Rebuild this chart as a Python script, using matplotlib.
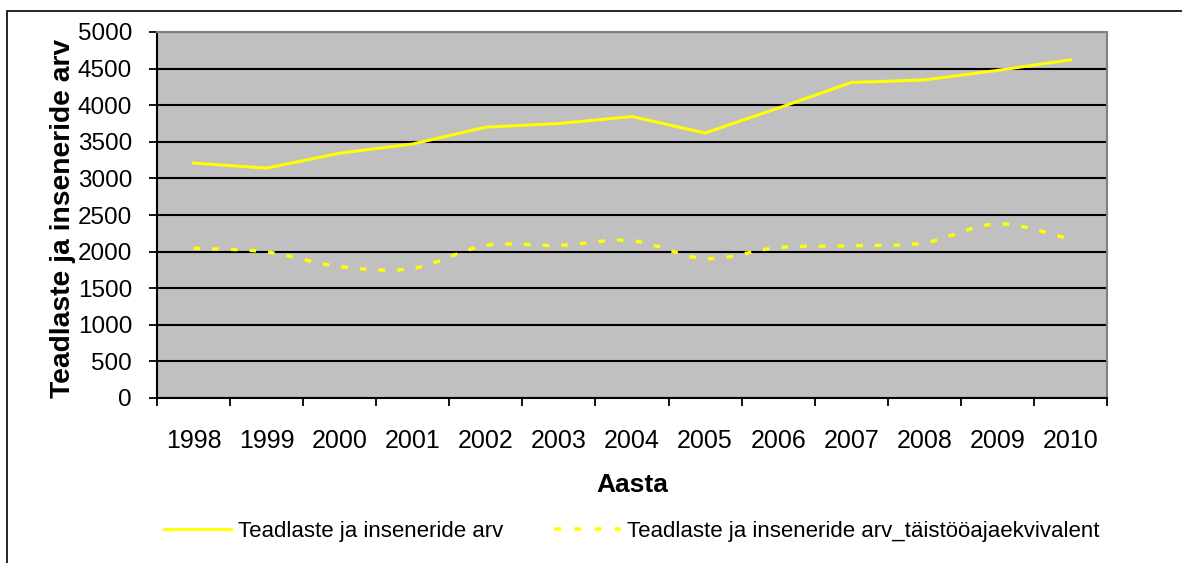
#!/usr/bin/env python3
"""Teadlaste ja inseneride arv 1998-2010 (line chart, Excel-style)."""

import numpy as np
import matplotlib.pyplot as plt
from matplotlib.path import Path
from matplotlib.patches import PathPatch, Rectangle
from matplotlib.lines import Line2D

plt.rcParams["font.family"] = ["Liberation Sans", "DejaVu Sans"]

years = ["1998", "1999", "2000", "2001", "2002", "2003", "2004",
         "2005", "2006", "2007", "2008", "2009", "2010"]
total = [3210, 3140, 3345, 3470, 3700, 3750, 3845,
         3620, 3960, 4310, 4345, 4475, 4620]
fte = [2045, 1995, 1795, 1770, 2085, 2085, 2150,
       1905, 2055, 2080, 2120, 2380, 2170]

label_total = "Teadlaste ja inseneride arv"
label_fte = "Teadlaste ja inseneride arv_täistööajaekvivalent"

W, H = 1182, 563
fig = plt.figure(figsize=(W / 100, H / 100), dpi=100)
ax = fig.add_axes([157 / W, 1 - 398 / H, (1107 - 157) / W, (398 - 32) / H])
ax.set_facecolor("#C0C0C0")

x = np.arange(len(years))


def smooth_path(xs, ys):
    # Excel-like smoothed line: cubic Bezier segments through the data points
    pts = np.column_stack([xs, ys]).astype(float)
    verts = [pts[0]]
    codes = [Path.MOVETO]
    n = len(pts)
    for i in range(n - 1):
        p0 = pts[i - 1] if i > 0 else pts[i]
        p1 = pts[i]
        p2 = pts[i + 1]
        p3 = pts[i + 2] if i + 2 < n else pts[i + 1]
        c1 = p1 + (p2 - p0) / 6
        c2 = p2 - (p3 - p1) / 6
        verts += [c1, c2, p2]
        codes += [Path.CURVE4] * 3
    return Path(verts, codes)


yellow = "#FFFF00"
ax.plot(x, total, color=yellow, lw=2.2, solid_joinstyle="miter", zorder=3)
ax.add_patch(PathPatch(smooth_path(x, fte), fill=False, edgecolor=yellow,
                       lw=2.4, linestyle=(0, (2.0, 3.6)), zorder=3))

ax.set_xlim(-0.5, len(years) - 0.5)
ax.set_ylim(0, 5000)
ax.set_yticks(np.arange(0, 5001, 500))
ax.yaxis.grid(True, color="black", lw=1.5, zorder=1)
ax.set_axisbelow(True)

# ticks at category boundaries, labels at centers
ax.set_xticks(np.arange(-0.5, len(years), 1.0))
ax.set_xticklabels([])
ax.set_xticks(x, minor=True)
ax.set_xticklabels(years, minor=True, fontsize=18)
ax.tick_params(axis="x", which="major", direction="out", length=6, width=1.3, color="black")
ax.tick_params(axis="x", which="minor", length=0, pad=22)
ax.tick_params(axis="y", direction="out", length=6, width=1.3, labelsize=17.5, pad=12)

for s in ("left", "bottom"):
    ax.spines[s].set_color("black")
    ax.spines[s].set_linewidth(1.5)
for s in ("top", "right"):
    ax.spines[s].set_color("#808080")
    ax.spines[s].set_linewidth(1.5)

ax.set_ylabel("Teadlaste ja inseneride arv", fontsize=20.3, fontweight="bold")
ax.yaxis.set_label_coords(-81 / (1107 - 157), 0.49)
ax.set_xlabel("Aasta", fontsize=19, fontweight="bold")
ax.xaxis.set_label_coords(0.5, -(485 - 398) / (398 - 32), transform=ax.transAxes)
ax.xaxis.label.set_verticalalignment("center")

handles = [Line2D([], [], color=yellow, lw=2.2),
           Line2D([], [], color=yellow, lw=2.6, linestyle=(0, (2.0, 3.6)))]
fig.legend(handles, [label_total, label_fte], loc="center",
           bbox_to_anchor=(632 / W, 1 - 531 / H), ncol=2, frameon=False,
           fontsize=16, handlelength=3.0, handletextpad=0.3, columnspacing=2.3)

# outer chart border
fig.patches.append(Rectangle((7 / W, -0.05), 1.2, 1 - 11 / H + 0.05,
                             transform=fig.transFigure, fill=False,
                             edgecolor="black", lw=1.2))

fig.savefig("out.png", dpi=100)
print("Saved out.png")
